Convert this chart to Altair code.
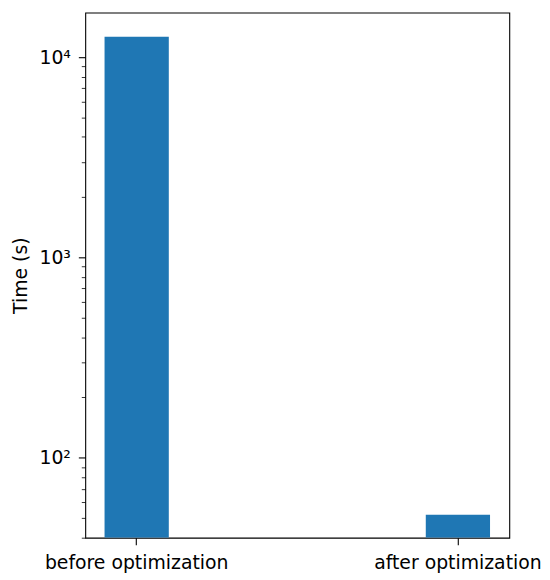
import altair as alt
import pandas as pd

categories = ["before optimization", "after optimization"]
times = [12660, 52]

major_ticks = [100, 1000, 10000]
minor_ticks = [40, 50, 60, 70, 80, 90,
               200, 300, 400, 500, 600, 700, 800, 900,
               2000, 3000, 4000, 5000, 6000, 7000, 8000, 9000]
y_domain = [39.9, 16700]

df = pd.DataFrame({"category": categories, "time": times})

FONT = "DejaVu Sans"
FS = 19

chart = alt.Chart(df).mark_bar(color="#1f77b4", clip=True).encode(
    x=alt.X(
        "category:N",
        sort=None,
        scale=alt.Scale(paddingInner=0.8, paddingOuter=0.06),
        axis=alt.Axis(
            title=None, labelAngle=0, tickSize=7, tickWidth=1.1, tickColor="black",
            labelPadding=9, labelFont=FONT, labelFontSize=FS, labelColor="black",
            labelLimit=0, domain=False, grid=False,
        ),
    ),
    y=alt.Y(
        "time:Q",
        scale=alt.Scale(type="log", domain=y_domain, nice=False),
        axis=alt.Axis(
            title="Time (s)",
            values=sorted(major_ticks + minor_ticks),
            labelExpr="datum.value == 10000 ? '10⁴' : datum.value == 1000 ? '10³' : datum.value == 100 ? '10²' : ''",
            tickSize={"condition": {"test": "indexof([100,1000,10000], datum.value) >= 0", "value": 7}, "value": 4},
            tickWidth={"condition": {"test": "indexof([100,1000,10000], datum.value) >= 0", "value": 1.1}, "value": 0.8},
            tickColor="black",
            labelPadding=8,
            labelFont=FONT, labelFontSize=FS, labelColor="black",
            titleFont=FONT, titleFontSize=FS, titleFontWeight="normal", titleColor="black",
            titlePadding=9,
            domain=False, grid=False,
        ),
    ),
    y2=alt.datum(y_domain[0]),
).properties(
    width=428,
    height=530,
    autosize=alt.AutoSizeParams(type="none"),
    padding={"left": 78, "top": 2, "right": 33, "bottom": 36},
).configure_view(stroke="black", strokeWidth=1.1)

chart.save("out.html", embed_options={"renderer": "svg", "actions": False})
